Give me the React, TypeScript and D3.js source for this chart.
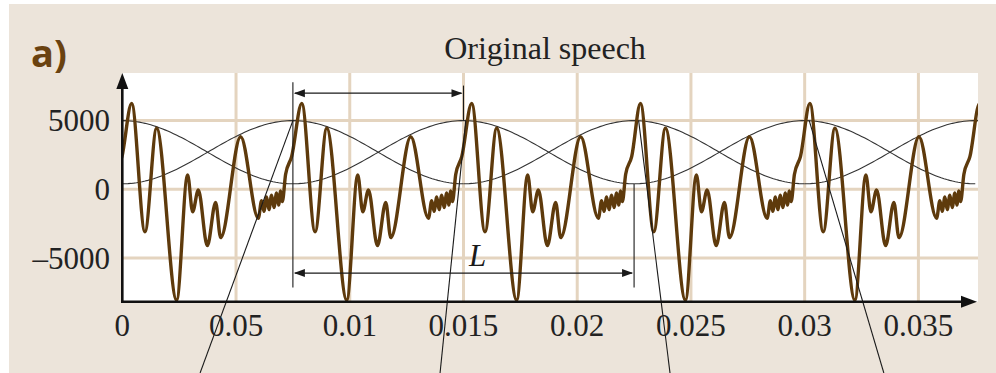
import React from 'react';
import * as d3 from 'd3';

const W = 996;
const H = 373;

// Axis ticks: time in seconds and the labels printed under them
const xTickValues = [0, 0.005, 0.01, 0.015, 0.02, 0.025, 0.03, 0.035];
const xTickLabels = ['0', '0.05', '0.01', '0.015', '0.02', '0.025', '0.03', '0.035'];
const yTickValues = [5000, 0, -5000];
const yTickLabels = ['5000', '0', '–5000'];

// One pitch period of the voiced waveform: time after the glottal peak (ms) and amplitude
const cycleOffsetsMs = [
  0, 0.586, 1.099, 1.978, 2.462, 2.682, 2.932, 3.328, 3.693, 3.913, 4.792, 5.57,
  5.715, 5.816, 5.935, 6.036, 6.155, 6.256, 6.374, 6.462, 6.55, 6.625, 6.77, 7.034,
];
const cycleAmplitudes = [
  6250, -3090, 4440, -8060, 1040, -1630, -50, -4100, -950, -3520, 3830, -2110,
  -820, -1600, -560, -1480, -420, -1320, -260, -1150, -120, -900, 1090, 2375,
];
// Glottal peak times (s) of successive pitch periods
const cyclePeakTimes = [-0.00705, 0.00041, 0.00789, 0.01536, 0.02278, 0.03023, 0.03769];

// Hamming analysis windows: centres (s), frame length L (s), peak amplitude
const windowCenters = [0, 0.0075, 0.015, 0.0225, 0.03, 0.0375];
const windowLength = 0.015;
const windowPeak = 5000;

// Annotations: frame-shift arrow, frame-length arrow, guide lines
const hopArrow = { from: 0.0075, to: 0.015, level: 7000 };
const frameArrow = { from: 0.0075, to: 0.0225, level: -6100 };
const guideLines = [
  { t: 0.0075, top: 7800, bottom: -7150 },
  { t: 0.015, top: 7550, bottom: 5000 },
  { t: 0.0225, top: 380, bottom: -7150 },
];
const leaderTop = [0.0075, 0.0151, 0.0227, 0.0302];
const leaderBottom = [0.00342, 0.01397, 0.02408, 0.03348];

const X_END = 0.03762;
const Y_MIN = -8180;
const Y_MAX = 8465;
const PLOT = { left: 122.3, right: 978, top: 73, bottom: 301.7 };

const BG = '#ece4da';
const GRID = '#e4d4bf';
const BROWN = '#5e3a0c';
const SERIF = '"Liberation Serif", "Times New Roman", serif';

export default function App() {
  const x = d3.scaleLinear().domain([0, X_END]).range([PLOT.left, PLOT.right]);
  const y = d3.scaleLinear().domain([Y_MIN, Y_MAX]).range([PLOT.bottom, PLOT.top]);

  const speech: [number, number][] = cyclePeakTimes.flatMap((t0) =>
    cycleOffsetsMs.map((ms, i) => [t0 + ms / 1000, cycleAmplitudes[i]] as [number, number])
  );
  const line = d3
    .line<[number, number]>()
    .x((d) => x(d[0]))
    .y((d) => y(d[1]));
  const speechPath = line.curve(d3.curveMonotoneX)(speech) || '';

  const windowLine = d3
    .line<[number, number]>()
    .x((d) => x(d[0]))
    .y((d) => y(d[1]));
  const hamming = (c: number) =>
    d3.range(0, 121).map((i) => {
      const t = c - windowLength / 2 + (windowLength * i) / 120;
      const v = windowPeak * (0.54 + 0.46 * Math.cos((2 * Math.PI * (t - c)) / windowLength));
      return [t, v] as [number, number];
    });

  const arrowHead = (tipX: number, tipY: number, dir: number, len = 11, half = 4) =>
    `M${tipX},${tipY}L${tipX - dir * len},${tipY - half}L${tipX - dir * len},${tipY + half}Z`;

  return (
    <svg
      width={W}
      height={H}
      style={{ position: 'absolute', left: 0, top: 0, background: '#fff' }}
    >
      <defs>
        <clipPath id="plot-clip">
          <rect
            x={PLOT.left}
            y={PLOT.top}
            width={PLOT.right - PLOT.left}
            height={PLOT.bottom - PLOT.top}
          />
        </clipPath>
      </defs>
      <rect x={9} y={4} width={W - 9} height={H - 4} fill={BG} />
      <rect
        x={PLOT.left}
        y={PLOT.top}
        width={PLOT.right - PLOT.left}
        height={PLOT.bottom - PLOT.top}
        fill="#fff"
      />

      {/* grid */}
      {xTickValues.slice(1).map((t) => (
        <line
          key={'gx' + t}
          x1={x(t)}
          x2={x(t)}
          y1={PLOT.top}
          y2={PLOT.bottom}
          stroke={GRID}
          strokeWidth={3}
        />
      ))}
      {yTickValues.map((v) => (
        <line
          key={'gy' + v}
          x1={PLOT.left}
          x2={PLOT.right}
          y1={y(v)}
          y2={y(v)}
          stroke={GRID}
          strokeWidth={3}
        />
      ))}

      {/* analysis windows */}
      <g clipPath="url(#plot-clip)">
        {windowCenters.map((c) => (
          <path
            key={'w' + c}
            d={windowLine(hamming(c)) || ''}
            fill="none"
            stroke="#333"
            strokeWidth={1.1}
          />
        ))}
      </g>

      {/* speech waveform */}
      <g clipPath="url(#plot-clip)">
        <path d={speechPath} fill="none" stroke={BROWN} strokeWidth={3.4} strokeLinejoin="round" />
      </g>

      {/* guide lines and arrows */}
      <g stroke="#1a1a1a" strokeWidth={1.1} fill="none">
        {guideLines.map((g) => (
          <line key={'v' + g.t} x1={x(g.t)} x2={x(g.t)} y1={y(g.top)} y2={y(g.bottom)} />
        ))}
        <line
          x1={x(hopArrow.from) + 2}
          x2={x(hopArrow.to) - 2}
          y1={y(hopArrow.level)}
          y2={y(hopArrow.level)}
        />
        <line
          x1={x(frameArrow.from) + 2}
          x2={x(frameArrow.to) - 2}
          y1={y(frameArrow.level)}
          y2={y(frameArrow.level)}
        />
        {leaderTop.map((t, i) => (
          <line key={'l' + t} x1={x(t)} y1={y(windowPeak)} x2={x(leaderBottom[i])} y2={H} />
        ))}
      </g>
      <g fill="#1a1a1a">
        <path d={arrowHead(x(hopArrow.from) + 1, y(hopArrow.level), -1)} />
        <path d={arrowHead(x(hopArrow.to) - 1, y(hopArrow.level), 1)} />
        <path d={arrowHead(x(frameArrow.from) + 1, y(frameArrow.level), -1)} />
        <path d={arrowHead(x(frameArrow.to) - 1, y(frameArrow.level), 1)} />
      </g>
      <text
        x={x(0.01562)}
        y={y(-5580)}
        textAnchor="middle"
        fontFamily={SERIF}
        fontStyle="italic"
        fontSize={31}
        fill="#1a1a1a"
      >
        L
      </text>

      {/* axes */}
      <g stroke="#111" strokeWidth={2.6}>
        <line x1={PLOT.left} x2={PLOT.left} y1={PLOT.bottom + 1.3} y2={PLOT.top + 10} />
        <line x1={PLOT.left - 1.3} x2={PLOT.right - 12} y1={PLOT.bottom} y2={PLOT.bottom} />
      </g>
      <g fill="#111">
        <path
          d={`M${PLOT.left},${PLOT.top}L${PLOT.left - 6},${PLOT.top + 16}L${PLOT.left + 6},${PLOT.top + 16}Z`}
        />
        <path
          d={`M${PLOT.right - 1},${PLOT.bottom}L${PLOT.right - 17},${PLOT.bottom - 6}L${PLOT.right - 17},${PLOT.bottom + 6}Z`}
        />
      </g>

      {/* tick labels */}
      <g fontFamily={SERIF} fontSize={31} fill="#222">
        {xTickValues.map((t, i) => (
          <text key={'xt' + t} x={x(t)} y={336} textAnchor="middle">
            {xTickLabels[i]}
          </text>
        ))}
        {yTickValues.map((v, i) => (
          <text key={'yt' + v} x={110} y={y(v)} dy="0.35em" textAnchor="end">
            {yTickLabels[i]}
          </text>
        ))}
      </g>

      {/* title and panel label */}
      <text x={545} y={59} textAnchor="middle" fontFamily={SERIF} fontSize={32} fill="#222">
        Original speech
      </text>
      <text
        x={31}
        y={67}
        fontFamily='"Open Sans", sans-serif'
        fontWeight={700}
        fontSize={38}
        fill="#6a4210"
      >
        a)
      </text>
    </svg>
  );
}
